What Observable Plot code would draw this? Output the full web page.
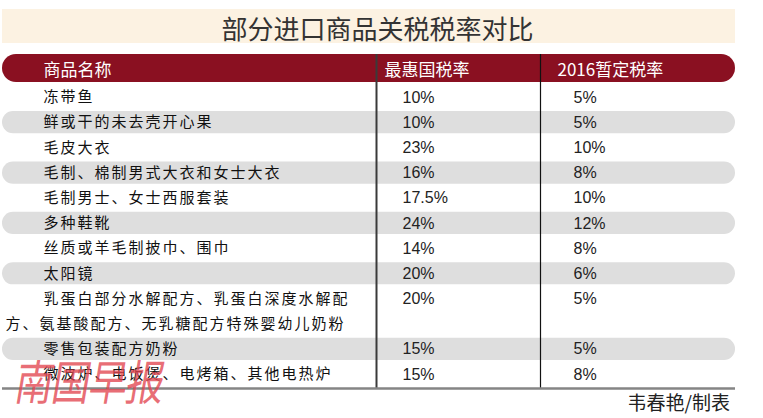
<!DOCTYPE html>
<html>
<head>
<meta charset="utf-8">
<script src="https://cdn.jsdelivr.net/npm/d3@7"></script>
<script src="https://cdn.jsdelivr.net/npm/@observablehq/plot@0.6"></script>
<style>
  html, body { margin: 0; padding: 0; background: #ffffff; }
  #wrap { position: relative; width: 763px; height: 418px; overflow: hidden; }
  #title {
    position: absolute; left: 2px; top: 9px; width: 733px; height: 34px;
    background: #fcf2e2; box-sizing: border-box; padding-left: 18px;
    font: 26px/38px "Noto Sans CJK SC", sans-serif; color: #333; text-align: center;
  }
  #chart { position: absolute; left: 0; top: 46px; }
  #caption {
    position: absolute; right: 33px; top: 391px;
    font: 19px/22px "Noto Sans CJK SC", sans-serif; color: #222;
  }
  #mark {
    position: absolute; left: 12px; top: 364px; transform-origin: 0 100%;
    transform: scaleY(1.25) skewX(-12deg);
    font: 38px/42px "Noto Sans CJK SC", sans-serif; letter-spacing: -1px;
    color: rgba(226, 70, 80, 0.78); white-space: nowrap;
  }
</style>
</head>
<body>
<div id="wrap">
  <div id="title"></div>
  <div id="chart"></div>
  <div id="caption"></div>
  <div id="mark"></div>
</div>
<script>
// ---- data ----
const title = "部分进口商品关税税率对比";
const headers = ["商品名称", "最惠国税率", "2016暂定税率"];
const products = [
  "冻带鱼",
  "鲜或干的未去壳开心果",
  "毛皮大衣",
  "毛制、棉制男式大衣和女士大衣",
  "毛制男士、女士西服套装",
  "多种鞋靴",
  "丝质或羊毛制披巾、围巾",
  "太阳镜",
  "乳蛋白部分水解配方、乳蛋白深度水解配方、氨基酸配方、无乳糖配方特殊婴幼儿奶粉",
  "零售包装配方奶粉",
  "微波炉、电饭煲、电烤箱、其他电热炉"
];
const mfnRates = [10, 10, 23, 16, 17.5, 24, 14, 20, 20, 15, 15];
const provisionalRates2016 = [5, 5, 10, 8, 10, 12, 8, 6, 5, 5, 8];
const credit = "韦春艳/制表";
const watermark = "南国早报";

// ---- layout ----
const L = {
  left: 2, right: 735,
  sep1: 376, sep2: 540,
  nameX: 43, wrapX: 5, mfnX: 402, provX: 573,
  headX: [43, 384, 557],
  firstLineChars: 18, lineChars: 20,
  headTop: -1.708, headBottom: -0.596, headY: -1.09,
  half: 0.44
};

function wrap(s) {
  const chars = Array.from(s);
  if (chars.length <= L.lineChars) return [s];
  const out = [chars.slice(0, L.firstLineChars).join("")];
  let rest = chars.slice(L.firstLineChars);
  while (rest.length) { out.push(rest.slice(0, L.lineChars).join("")); rest = rest.slice(L.lineChars); }
  return out;
}

let slot = 0;
const rows = products.map((p, i) => {
  const lines = wrap(p);
  const r = { i, product: p, lines, slot, mfn: mfnRates[i], prov: provisionalRates2016[i] };
  slot += lines.length;
  return r;
});
const totalSlots = slot;
const bottomY = totalSlots - L.half;
const nameLines = rows.flatMap(r => r.lines.map((t, k) => ({ text: t, x: k === 0 ? L.nameX : L.wrapX, y: r.slot + k })));
const bands = rows.filter(r => r.i % 2 === 1);
const headerCells = headers.map((h, j) => ({ h, x: L.headX[j] }));
const pct = v => `${v}%`;

document.getElementById("title").textContent = title;
document.getElementById("caption").textContent = credit;
document.getElementById("mark").textContent = watermark;

const sheet = Plot.plot({
  width: 763, height: 346, margin: 0,
  style: { background: "transparent" },
  x: { type: "linear", domain: [0, 763], range: [0, 763], axis: null },
  y: { type: "linear", domain: [0, 11], range: [51, 328], axis: null },
  marks: [
    Plot.rect([headers], { x1: () => L.left, x2: () => L.right, y1: () => L.headTop, y2: () => L.headBottom, fill: "#8a1021", rx: 14 }),
    Plot.rect(bands, { x1: () => L.left, x2: () => L.right, y1: d => d.slot - L.half, y2: d => d.slot + d.lines.length - 1 + L.half, fill: "#dedede", rx: 11 }),
    Plot.ruleX([L.sep1], { x: d => d, y1: () => L.headTop, y2: () => bottomY, stroke: "#3a3a3a", strokeWidth: 2 }),
    Plot.ruleX([L.sep2], { x: d => d, y1: () => L.headTop, y2: () => bottomY, stroke: "#111", strokeWidth: 1.2 }),
    Plot.ruleY([bottomY], { y: d => d, x1: () => L.left, x2: () => L.right, stroke: "#858585", strokeWidth: 2.5 }),
    Plot.text(headerCells, { x: "x", y: () => L.headY, text: "h", textAnchor: "start", fill: "#ffffff", fontSize: 17, fontFamily: "Noto Sans CJK SC" }),
    Plot.text(nameLines, { x: "x", y: "y", text: "text", textAnchor: "start", fill: "#111", fontSize: 15, fontFamily: "Noto Sans CJK SC", ariaDescription: "product-names" }),
    Plot.text(rows, { x: () => L.mfnX, y: "slot", text: d => pct(d.mfn), textAnchor: "start", fill: "#222", fontSize: 16, fontFamily: "Liberation Sans" }),
    Plot.text(rows, { x: () => L.provX, y: "slot", text: d => pct(d.prov), textAnchor: "start", fill: "#222", fontSize: 16, fontFamily: "Liberation Sans" })
  ]
});

let sel = d3.select(sheet).selectAll('g[aria-description="product-names"] text');
if (sel.empty()) sel = d3.select(sheet).selectAll('g[font-size="15"] text');
sel.style("letter-spacing", "2px");

document.getElementById("chart").appendChild(sheet);
</script>
</body>
</html>
